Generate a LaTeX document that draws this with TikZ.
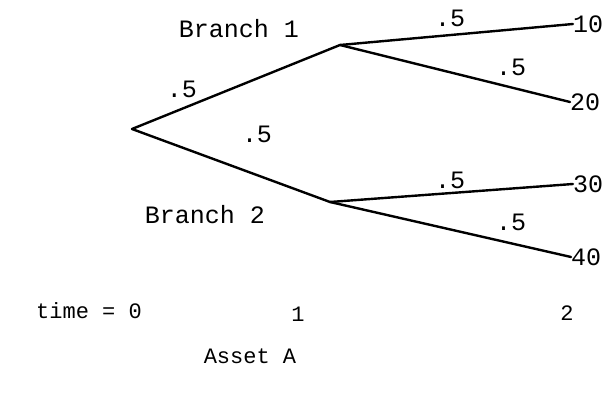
\documentclass[tikz,border=0pt]{standalone}
\usepackage{fontspec}
\setmainfont{Liberation Mono}
\begin{document}
\begin{tikzpicture}[x=1pt,y=-1pt,
  br/.style={line width=2.4pt,line cap=round},
  lbl/.style={font=\fontsize{25}{28}\selectfont,inner sep=0pt},
  sml/.style={font=\fontsize{22}{26}\selectfont,inner sep=0pt},
  pt/.style={inner sep=0pt,minimum size=0pt}]
\useasboundingbox (0,0) rectangle (611,398);
\node[pt] (r) at (132,129) {};
\node[pt] (a) at (340,45) {};
\node[pt] (b) at (330,202) {};
\node[lbl,anchor=west] (l10) at (573,24) {10};
\node[lbl,anchor=west] (l20) at (570,102) {20};
\node[lbl,anchor=west] (l30) at (573,184) {30};
\node[lbl,anchor=west] (l40) at (571,257) {40};
\draw[br] (r.center) -- (a.center);
\draw[br] (r.center) -- (b.center);
\draw[br] (a.center) -- (l10.west);
\draw[br] (a.center) -- (l20.west);
\draw[br] (b.center) -- (l30.west);
\draw[br] (b.center) -- (l40.west);
\node[lbl] (b1) at (239,29) {Branch 1};
\node[lbl] (b2) at (205,215) {Branch 2};
\node[lbl] (p1) at (182,89) {.5};
\node[lbl] (p2) at (257,134) {.5};
\node[lbl] (p3) at (450,18) {.5};
\node[lbl] (p4) at (511,67) {.5};
\node[lbl] (p5) at (450,180) {.5};
\node[lbl] (p6) at (511,222) {.5};
\node[sml] (t0) at (89,311) {time = 0};
\node[sml] (t1) at (298,314) {1};
\node[sml] (t2) at (567,313) {2};
\node[sml] (asset) at (250,356) {Asset A};
\end{tikzpicture}
\end{document}
